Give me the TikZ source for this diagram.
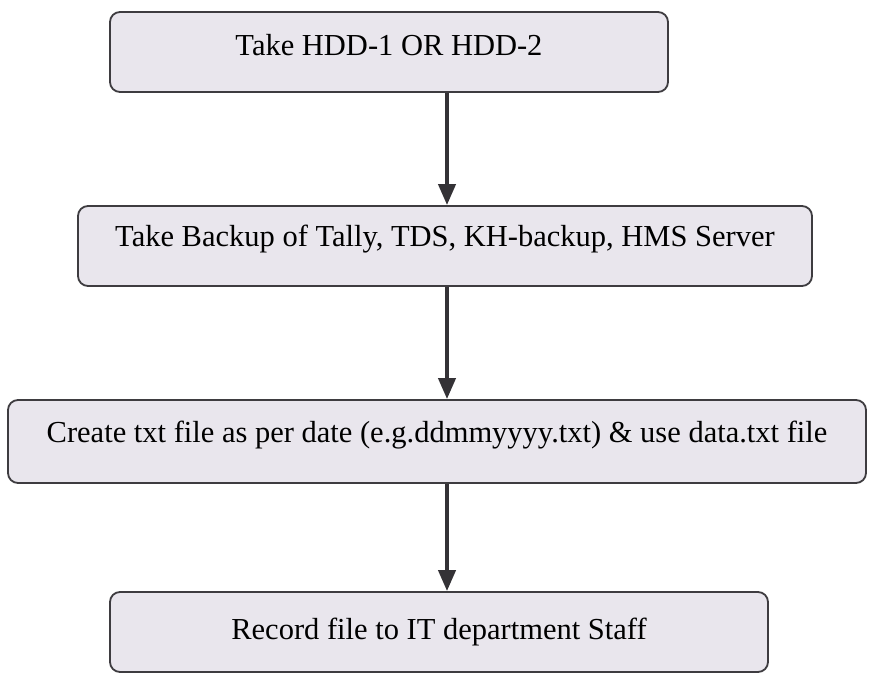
\documentclass[tikz,border=0pt]{standalone}
\usepackage{fontspec}
\setmainfont{Liberation Serif}
\usepackage{tikz}
\usetikzlibrary{arrows.meta, positioning, calc}

\definecolor{boxfill}{RGB}{233,230,237}
\definecolor{boxline}{RGB}{62,60,64}
\definecolor{arrowcol}{RGB}{52,50,54}

\begin{document}
\begin{tikzpicture}[
  x=1pt, y=-1pt,
  box/.style={
    draw=boxline,
    fill=boxfill,
    line width=1.8pt,
    rounded corners=10pt,
    align=center,
    inner sep=0pt,
    minimum height=80pt,
    text height=21pt,
    text depth=6pt,
    font=\fontsize{30.5}{36}\selectfont
  },
  raised/.style={text depth=20pt},
  arrow/.style={-{Triangle[length=21pt, width=17pt]}, line width=4pt, draw=arrowcol}
]

\useasboundingbox[fill=white] (0,0) rectangle (872,674);

% Steps
\node[box, text depth=14pt, minimum width=558pt] (hdd) at (389,52) {Take HDD-1 OR HDD-2};
\node[box, raised, minimum width=734pt] (backup) at (445,246)
  {Take Backup of Tally, TDS, KH-backup, HMS Server};
\node[box, raised, minimum width=858pt, minimum height=83pt] (txtfile) at (437,441.5)
  {Create txt file as per date (e.g.ddmmyyyy.txt) \& use data.txt file};
\node[box, minimum width=658pt] (record) at (439,632)
  {Record file to IT department Staff};

% Arrows
\coordinate (axis) at (447,0);
\draw[arrow] (hdd.south -| axis) -- (backup.north -| axis);
\draw[arrow] (backup.south -| axis) -- (txtfile.north -| axis);
\draw[arrow] (txtfile.south -| axis) -- (record.north -| axis);

\end{tikzpicture}
\end{document}
